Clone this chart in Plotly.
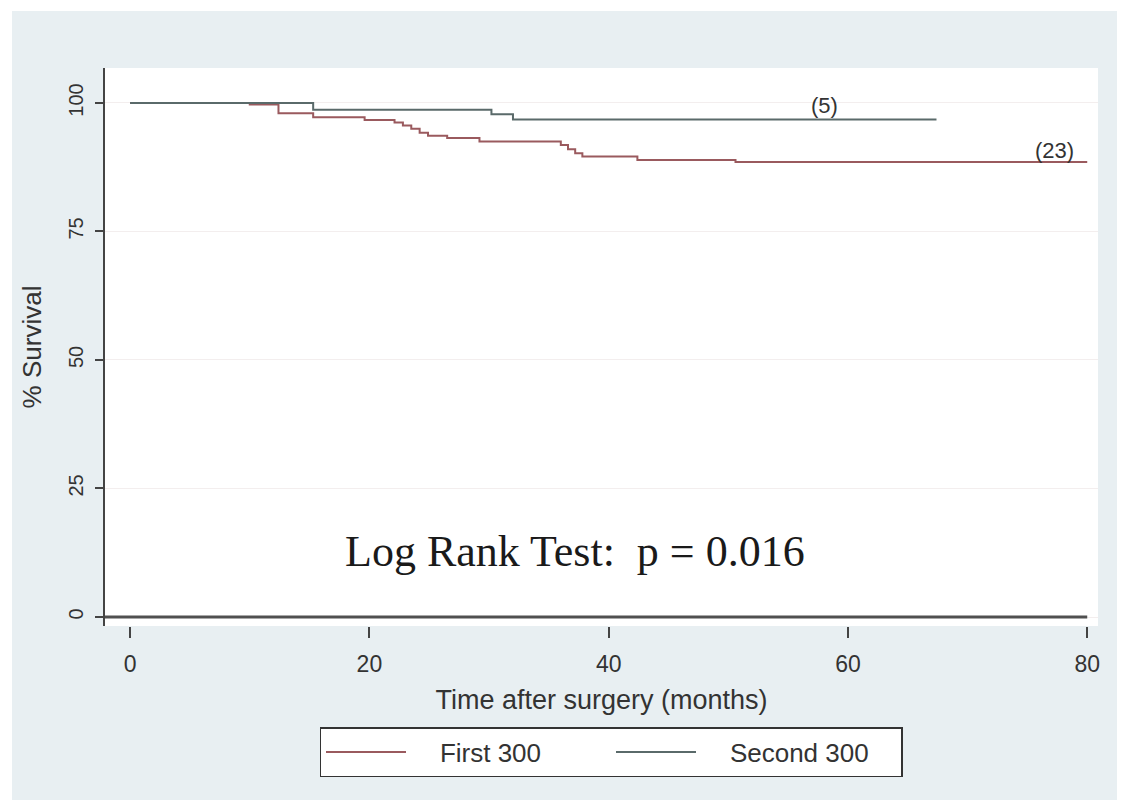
import plotly.graph_objects as go

# ---- data ----
first_time = [0, 10.0, 12.4, 15.3, 19.6, 22.1, 22.8, 23.5, 24.2, 24.9, 26.5, 29.2, 36.0, 36.6, 37.2, 37.8, 42.4, 50.6, 80]
first_surv = [100, 99.7, 98.0, 97.2, 96.7, 96.2, 95.6, 95.0, 94.2, 93.6, 93.2, 92.5, 91.8, 91.0, 90.2, 89.6, 88.9, 88.5, 88.5]
second_time = [0, 15.3, 30.2, 32.0, 67.4]
second_surv = [100, 98.7, 97.8, 96.8, 96.8]
series_names = ["First 300", "Second 300"]
x_ticks = [0, 20, 40, 60, 80]
y_ticks = [0, 25, 50, 75, 100]
events_labels = ["(5)", "(23)"]
p_text = "Log Rank Test:  p = 0.016"

RED = "#9a5a5e"
GRAY = "#5a6a6a"
BG = "#e8eff2"
SANS = "Liberation Sans, Arial, sans-serif"
SERIF = "Liberation Serif, Times New Roman, serif"

fig = go.Figure()
fig.add_trace(go.Scatter(x=first_time, y=first_surv, mode="lines", line_shape="hv",
                         line=dict(color=RED, width=2),
                         name="\u00a0\u00a0\u00a0\u00a0" + series_names[0]))
fig.add_trace(go.Scatter(x=second_time, y=second_surv, mode="lines", line_shape="hv",
                         line=dict(color=GRAY, width=2),
                         name="\u00a0\u00a0\u00a0\u00a0" + series_names[1]))

W, H = 1128, 809
L, R, T, B = 105, 30, 68, 183
pw, ph = W - L - R, H - T - B
def px(xp): return (xp - L) / pw
def py(yp): return (H - B - yp) / ph

shapes = [
    dict(type="rect", xref="paper", yref="paper", x0=px(12), x1=px(1117), y0=py(800), y1=py(11),
         fillcolor=BG, line=dict(width=0), layer="below"),
    dict(type="rect", xref="paper", yref="paper", x0=0, x1=1, y0=0, y1=1,
         fillcolor="white", line=dict(width=0), layer="below"),
    dict(type="line", xref="x", yref="y", x0=-2.6, x1=80, y0=0, y1=0,
         line=dict(color="#505050", width=3)),
]

annotations = [
    dict(x=58, y=99.6, xref="x", yref="y", text=events_labels[0], showarrow=False,
         font=dict(family=SANS, size=22, color="#333")),
    dict(x=77.3, y=90.7, xref="x", yref="y", text=events_labels[1], showarrow=False,
         font=dict(family=SANS, size=22, color="#333")),
    dict(x=37.2, y=12.8, xref="x", yref="y", text=p_text, showarrow=False,
         font=dict(family=SERIF, size=44, color="#1a1a1a")),
]

fig.update_layout(
    width=W, height=H,
    margin=dict(l=L, r=R, t=T, b=B),
    paper_bgcolor="white", plot_bgcolor="white",
    shapes=shapes, annotations=annotations,
    showlegend=True,
    legend=dict(orientation="h", x=px(611), xanchor="center", y=py(727), yanchor="top",
                bgcolor="white", bordercolor="#333", borderwidth=1.5,
                font=dict(family=SANS, size=26, color="#333"),
                entrywidth=195, entrywidthmode="pixels", itemwidth=80),
    xaxis=dict(range=[-2.1, 80.9], tickvals=x_ticks, ticks="outside", ticklen=11, tickwidth=1.5,
               tickcolor="#444", showgrid=False, zeroline=False, showline=False,
               ticklabelstandoff=6,
               tickfont=dict(family=SANS, size=23, color="#333"),
               title=dict(text="Time after surgery (months)", standoff=14,
                          font=dict(family=SANS, size=27, color="#333"))),
    yaxis=dict(range=[-1.75, 106.8], tickvals=y_ticks, ticks="outside", ticklen=8, tickwidth=1.5,
               tickcolor="#444", tickangle=-90, showline=True, linecolor="#444", linewidth=1.5,
               ticklabelstandoff=4,
               showgrid=True, gridcolor="#f3eeee", gridwidth=1, zeroline=False,
               tickfont=dict(family=SANS, size=20, color="#333"),
               title=dict(text="% Survival", standoff=16,
                          font=dict(family=SANS, size=26, color="#333"))),
)

fig.write_html("out.html", config={"displayModeBar": False},
               post_script="document.body.style.margin='0';")
